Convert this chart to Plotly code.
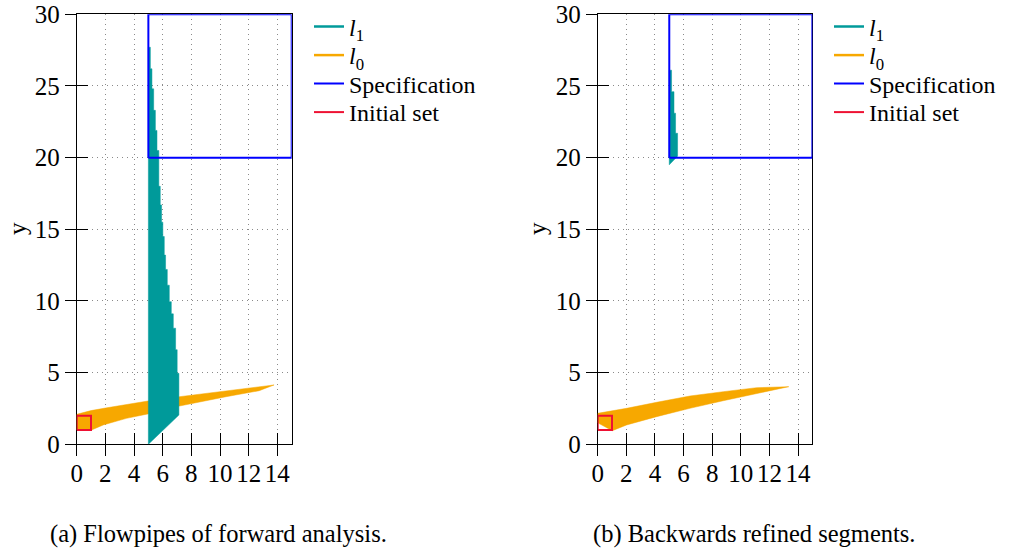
import plotly.graph_objects as go

# ---------------- data ----------------
# (a) forward analysis, l1 flowpipe: staircase right edge
l1_fwd_step_top = [27.7, 26.2, 24.8, 23.3, 21.9, 20.5, 18.0, 16.7, 15.5, 14.5,
                   13.2, 12.2, 11.1, 9.95, 9.1, 8.1, 6.6, 4.95]
l1_fwd_step_right = [5.14, 5.25, 5.37, 5.49, 5.60, 5.73, 5.83, 5.92, 6.01, 6.11,
                     6.20, 6.32, 6.46, 6.60, 6.74, 6.90, 7.01, 7.13]
l1_fwd_left = 5.0
l1_fwd_last_bottom = 2.04
l1_fwd_tip = (5.0, 0.0)

# (a) forward analysis, l0 flowpipe
l0_fwd_top_x = [0.0, 1.0, 2.0, 3.47, 4.97, 7.17, 10.42, 12.73, 13.77]
l0_fwd_top_y = [2.09, 2.35, 2.53, 2.79, 3.02, 3.32, 3.74, 4.02, 4.14]
l0_fwd_bot_x = [0.0, 1.04, 1.85, 3.47, 4.97, 7.17, 10.42, 12.73]
l0_fwd_bot_y = [1.0, 1.0, 1.35, 1.81, 2.12, 2.67, 3.32, 3.74]

# (b) backwards refined, l1 segments
l1_bwd_step_top = [26.1, 24.6, 23.1, 21.7]
l1_bwd_step_right = [5.16, 5.33, 5.44, 5.58]
l1_bwd_left = 5.0
l1_bwd_last_bottom = 20.1
l1_bwd_tip = (5.0, 19.5)

# (b) backwards refined, l0 segments
l0_bwd_top_x = [0.0, 2.02, 4.12, 6.44, 8.77, 11.1, 13.35]
l0_bwd_top_y = [2.16, 2.51, 2.93, 3.37, 3.67, 3.95, 4.02]
l0_bwd_bot_x = [0.0, 1.02, 2.02, 4.12, 6.44, 8.77, 11.1]
l0_bwd_bot_y = [1.5, 0.95, 1.35, 1.93, 2.51, 3.04, 3.56]

# boxes
spec_x = [5, 15]
spec_y = [20, 30]
init_x = [0, 1]
init_y = [1, 2]

x_ticks = [0, 2, 4, 6, 8, 10, 12, 14]
y_ticks = [0, 5, 10, 15, 20, 25, 30]
x_range = [0, 15]
y_range = [0, 30]

legend_names = ["<i>l</i><sub>1</sub>", "<i>l</i><sub>0</sub>", "Specification", "Initial set"]
captions = ["(a) Flowpipes of forward analysis.", "(b) Backwards refined segments."]

# ---------------- styling ----------------
TEAL = "#009a9a"
ORANGE = "#f7a800"
BLUE = "#0000ff"
RED = "#ee1133"
FONT = "'Liberation Serif', 'DejaVu Serif', serif"
W, H = 1025, 552
LEGEND_ROWS_PX = [27, 55.5, 84, 112.5]
LEGEND_X_PX = [309, 829]


def step_polygon(left, tops, rights, last_bottom, tip):
    xs = [tip[0], left]
    ys = [tip[1], tops[0]]
    for i, (t, r) in enumerate(zip(tops, rights)):
        bottom = tops[i + 1] if i + 1 < len(tops) else last_bottom
        xs += [r, r]
        ys += [t, bottom]
    xs.append(tip[0])
    ys.append(tip[1])
    return xs, ys


def wedge_polygon(tx, ty, bx, by):
    return list(tx) + list(reversed(bx)) + [tx[0]], list(ty) + list(reversed(by)) + [ty[0]]


def box(xr, yr):
    return ([xr[0], xr[1], xr[1], xr[0], xr[0]], [yr[0], yr[0], yr[1], yr[1], yr[0]])


def legend_id(panel, k):
    n = 1 + panel * 4 + k
    return "legend" if n == 1 else "legend%d" % n


fig = go.Figure()

panels = [
    dict(xa="x", ya="y",
         l1=step_polygon(l1_fwd_left, l1_fwd_step_top, l1_fwd_step_right, l1_fwd_last_bottom, l1_fwd_tip),
         l0=wedge_polygon(l0_fwd_top_x, l0_fwd_top_y, l0_fwd_bot_x, l0_fwd_bot_y)),
    dict(xa="x2", ya="y2",
         l1=step_polygon(l1_bwd_left, l1_bwd_step_top, l1_bwd_step_right, l1_bwd_last_bottom, l1_bwd_tip),
         l0=wedge_polygon(l0_bwd_top_x, l0_bwd_top_y, l0_bwd_bot_x, l0_bwd_bot_y)),
]

for pi, p in enumerate(panels):
    # filled flowpipes
    fig.add_trace(go.Scatter(x=p["l0"][0], y=p["l0"][1], fill="toself", fillcolor=ORANGE,
                             mode="lines", line=dict(color=ORANGE, width=0.5),
                             xaxis=p["xa"], yaxis=p["ya"], showlegend=False, hoverinfo="skip"))
    fig.add_trace(go.Scatter(x=p["l1"][0], y=p["l1"][1], fill="toself", fillcolor=TEAL,
                             mode="lines", line=dict(color=TEAL, width=0.5),
                             xaxis=p["xa"], yaxis=p["ya"], showlegend=False, hoverinfo="skip"))
    sx, sy = box(spec_x, spec_y)
    fig.add_trace(go.Scatter(x=sx, y=sy, mode="lines", line=dict(color=BLUE, width=2),
                             name=legend_names[2], legend=legend_id(pi, 2),
                             xaxis=p["xa"], yaxis=p["ya"]))
    ix, iy = box(init_x, init_y)
    fig.add_trace(go.Scatter(x=ix, y=iy, mode="lines", line=dict(color=RED, width=2),
                             name=legend_names[3], legend=legend_id(pi, 3),
                             xaxis=p["xa"], yaxis=p["ya"]))
    # legend entries drawn as line samples
    fig.add_trace(go.Scatter(x=[None], y=[None], mode="lines", line=dict(color=TEAL, width=2.5),
                             name=legend_names[0], legend=legend_id(pi, 0),
                             xaxis=p["xa"], yaxis=p["ya"]))
    fig.add_trace(go.Scatter(x=[None], y=[None], mode="lines", line=dict(color=ORANGE, width=2.5),
                             name=legend_names[1], legend=legend_id(pi, 1),
                             xaxis=p["xa"], yaxis=p["ya"]))

y_dom = [(H - 444.3) / H, (H - 14.3) / H]
x_doms = [[76.7 / W, 291.7 / W], [597.7 / W, 812.4 / W]]

axis_common = dict(showline=True, linecolor="black", linewidth=1, mirror=True,
                   ticks="outside", ticklen=11, tickwidth=1, tickcolor="black",
                   showgrid=True, gridcolor="#8a8a8a", griddash="1px,4px", gridwidth=1,
                   zeroline=False, layer="below traces", automargin=False,
                   tickfont=dict(family=FONT, size=25, color="black"), fixedrange=True)

layout = dict(
    width=W, height=H, margin=dict(l=0, r=0, t=0, b=0, autoexpand=False),
    plot_bgcolor="white", paper_bgcolor="white",
    font=dict(family=FONT, color="black"),
    showlegend=True,
)
for i, dom in enumerate(x_doms):
    xs = "" if i == 0 else "2"
    ys = "" if i == 0 else "2"
    layout["xaxis" + xs] = dict(axis_common, domain=dom, range=x_range, tickvals=x_ticks,
                                anchor="y" + ys, ticklabelstandoff=-4)
    layout["yaxis" + ys] = dict(axis_common, domain=y_dom, range=y_range, tickvals=y_ticks,
                                anchor="x" + xs)
    # inner halves of the crossing ticks
    ox = str(3 + 2 * i)
    oy = str(4 + 2 * i)
    layout["xaxis" + ox] = dict(overlaying="x" + xs, anchor="y" + ys, range=x_range,
                                tickvals=x_ticks, ticks="inside", ticklen=11, tickwidth=1,
                                tickcolor="black", showticklabels=False, showgrid=False,
                                showline=False, zeroline=False, side="bottom", fixedrange=True,
                                automargin=False)
    layout["yaxis" + oy] = dict(overlaying="y" + ys, anchor="x" + xs, range=y_range,
                                tickvals=y_ticks, ticks="inside", ticklen=11, tickwidth=1,
                                tickcolor="black", showticklabels=False, showgrid=False,
                                showline=False, zeroline=False, side="left", fixedrange=True,
                                automargin=False)

leg_common = dict(font=dict(family=FONT, size=24, color="black"), bgcolor="rgba(0,0,0,0)",
                  xanchor="left", yanchor="middle", itemwidth=30, tracegroupgap=0)
for pi in range(2):
    for k in range(4):
        layout[legend_id(pi, k)] = dict(leg_common, x=LEGEND_X_PX[pi] / W,
                                        y=1 - LEGEND_ROWS_PX[k] / H)

annotations = []
for i, (cx, cap) in enumerate(zip([218, 754], captions)):
    annotations.append(dict(text=cap, x=cx / W, y=1 - 534 / H, xref="paper", yref="paper",
                            showarrow=False, xanchor="center", yanchor="middle",
                            font=dict(family=FONT, size=24.5, color="black")))
for lx in [18, 538]:
    annotations.append(dict(text="y", x=lx / W, y=1 - 229 / H, xref="paper", yref="paper",
                            showarrow=False, xanchor="center", yanchor="middle", textangle=-90,
                            font=dict(family=FONT, size=25, color="black")))
layout["annotations"] = annotations

fig.update_layout(**layout)
# dummy invisible traces so the overlay axes are instantiated
for ox, oy in [("x3", "y"), ("x", "y4"), ("x5", "y2"), ("x2", "y6")]:
    fig.add_trace(go.Scatter(x=[None], y=[None], xaxis=ox, yaxis=oy, showlegend=False,
                             hoverinfo="skip"))

fig.write_html("out.html")
